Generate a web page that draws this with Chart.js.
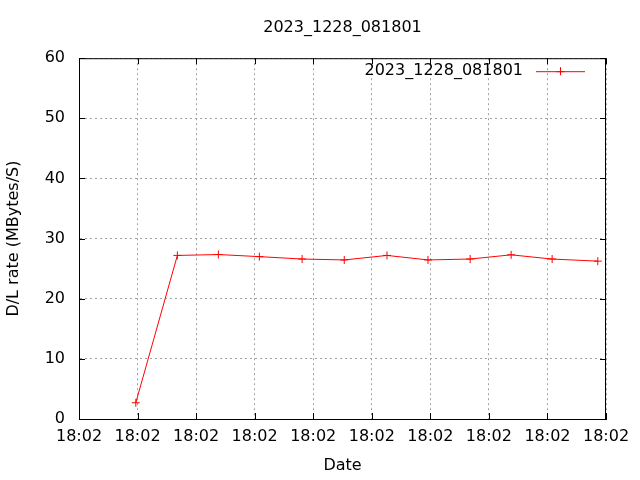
<!DOCTYPE html>
<html>
<head>
<meta charset="utf-8">
<script src="https://cdn.jsdelivr.net/npm/chart.js@4/dist/chart.umd.min.js"></script>
<style>
  html, body { margin: 0; padding: 0; background: #fff; }
  #wrap { width: 640px; height: 480px; }
</style>
</head>
<body>
<div id="wrap"><canvas id="chart" width="640" height="480"></canvas></div>
<script>
// run label, used for title and legend
const runName = '2023_1228_081801';

// elapsed seconds since the start of the run (axis ticks every 10 s)
const timeSec = [9.7, 16.8, 23.8, 30.8, 38.1, 45.3, 52.6, 59.6, 66.8, 73.8, 80.8, 88.6];
// download rate, MBytes/S
const rateMBps = [2.7, 27.2, 27.35, 27.0, 26.6, 26.45, 27.2, 26.45, 26.6, 27.3, 26.6, 26.25];

// every x tick reads the same clock minute
const xTickLabels = ['18:02', '18:02', '18:02', '18:02', '18:02',
                     '18:02', '18:02', '18:02', '18:02', '18:02'];

const FONT = { family: 'DejaVu Sans', size: 16, weight: 'normal' };

// gnuplot style frame: full border, inward ticks on all sides, key top right
const gnuFrame = {
  id: 'gnuFrame',
  afterDraw(chart) {
    const { ctx, chartArea: a, scales } = chart;
    ctx.save();
    ctx.strokeStyle = '#000';
    ctx.lineWidth = 1;
    ctx.strokeRect(a.left + 0.5, a.top + 0.5, a.right - a.left - 1, a.bottom - a.top);
    ctx.beginPath();
    const tl = 6;
    scales.x.ticks.forEach(t => {
      const px = Math.round(scales.x.getPixelForValue(t.value)) + 0.5;
      ctx.moveTo(px, a.bottom); ctx.lineTo(px, a.bottom - tl);
      ctx.moveTo(px, a.top); ctx.lineTo(px, a.top + tl);
    });
    scales.y.ticks.forEach(t => {
      const py = Math.round(scales.y.getPixelForValue(t.value)) + 0.5;
      ctx.moveTo(a.left, py); ctx.lineTo(a.left + tl, py);
      ctx.moveTo(a.right, py); ctx.lineTo(a.right - tl, py);
    });
    ctx.stroke();

    // key
    const ds = chart.data.datasets[0];
    const y = a.top + 13;
    ctx.font = FONT.size + 'px ' + FONT.family;
    ctx.fillStyle = '#000';
    ctx.textAlign = 'right';
    ctx.textBaseline = 'middle';
    ctx.fillText(ds.label, a.right - 83, y);
    ctx.strokeStyle = ds.borderColor;
    ctx.beginPath();
    ctx.moveTo(a.right - 70, y + 0.5); ctx.lineTo(a.right - 21, y + 0.5);
    const cx = a.right - 45.5;
    ctx.moveTo(cx - 4, y + 0.5); ctx.lineTo(cx + 4, y + 0.5);
    ctx.moveTo(cx, y - 4); ctx.lineTo(cx, y + 4);
    ctx.stroke();
    ctx.restore();
  }
};

new Chart(document.getElementById('chart'), {
  type: 'line',
  data: {
    datasets: [{
      label: runName,
      data: timeSec.map((t, i) => ({ x: t, y: rateMBps[i] })),
      borderColor: '#ff0000',
      backgroundColor: '#ff0000',
      borderWidth: 1,
      pointStyle: 'cross',
      pointRadius: 4,
      pointBorderWidth: 1,
      pointBorderColor: '#ff0000',
      tension: 0,
      fill: false
    }]
  },
  options: {
    responsive: false,
    animation: false,
    layout: { padding: { left: 0, right: 34, top: 0, bottom: 0 } },
    plugins: {
      legend: { display: false },
      tooltip: { enabled: false },
      title: {
        display: true,
        text: runName,
        color: '#000',
        font: FONT,
        fullSize: false,
        padding: { top: 18, bottom: 21 }
      }
    },
    scales: {
      x: {
        type: 'linear',
        min: 0,
        max: 90,
        afterFit(scale) { scale.height = 61; },
        ticks: {
          stepSize: 10,
          color: '#000',
          font: FONT,
          padding: 8,
          maxRotation: 0,
          autoSkip: false,
          callback: (v, i) => xTickLabels[i]
        },
        grid: { color: '#a0a0a0', lineWidth: 1, drawTicks: false },
        border: { display: true, color: '#000', width: 1, dash: [2, 3] },
        title: {
          display: true,
          text: 'Date',
          color: '#000',
          font: FONT,
          padding: { top: 0, bottom: 5 }
        }
      },
      y: {
        min: 0,
        max: 60,
        afterFit(scale) { scale.width = 79; },
        ticks: {
          stepSize: 10,
          color: '#000',
          font: FONT,
          padding: 14
        },
        grid: { color: '#a0a0a0', lineWidth: 1, drawTicks: false },
        border: { display: true, color: '#000', width: 1, dash: [2, 3] },
        title: {
          display: true,
          text: 'D/L rate (MBytes/S)',
          color: '#000',
          font: FONT,
          padding: { top: 4, bottom: 0 }
        }
      }
    }
  },
  plugins: [gnuFrame]
});
</script>
</body>
</html>
